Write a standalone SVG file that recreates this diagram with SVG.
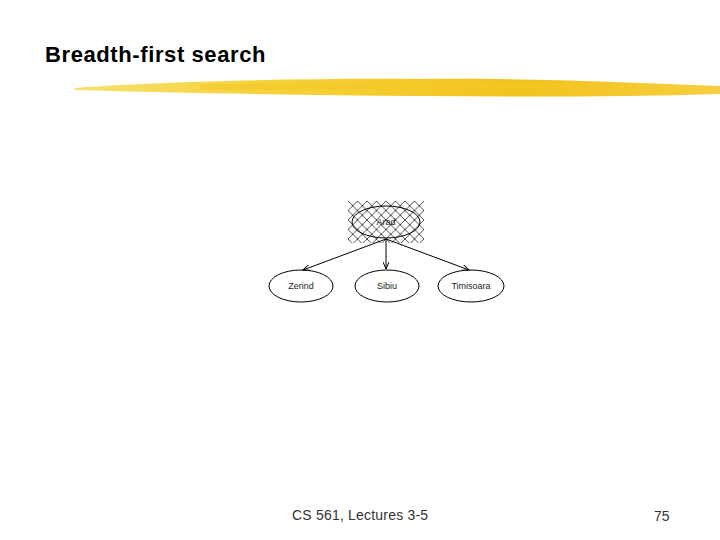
<svg xmlns="http://www.w3.org/2000/svg" width="720" height="540" viewBox="0 0 720 540">
<style>
.t{font-family:"Liberation Sans",Arial,sans-serif;fill:#000}
.f{font-family:"Liberation Sans",Arial,sans-serif;fill:#333;font-size:14px}
.n{fill:none;stroke:#000;stroke-width:1}
.l{font-family:"Liberation Sans",Arial,sans-serif;font-size:9px;fill:#222;text-anchor:middle}
.e{stroke:#000;stroke-width:1;fill:none;marker-end:url(#ah)}
</style>
<defs>
<pattern id="hatch" x="348" y="201" width="9.5" height="9.5" patternUnits="userSpaceOnUse">
<path d="M0,0 L9.5,9.5 M9.5,0 L0,9.5" stroke="#000" stroke-width="0.7"/>
</pattern>
<marker id="ah" markerWidth="8" markerHeight="6" refX="7" refY="3" orient="auto" markerUnits="userSpaceOnUse">
<path d="M0,0 L7,3 L0,6" fill="none" stroke="#000" stroke-width="1"/>
</marker>
<linearGradient id="y" x1="0" x2="1" y1="0" y2="0">
<stop offset="0" stop-color="#f7e070"/>
<stop offset="0.3" stop-color="#f5d23a"/>
<stop offset="0.7" stop-color="#f2c21e"/>
<stop offset="1" stop-color="#f6cf40"/>
</linearGradient>
</defs>
<rect width="720" height="540" fill="#fff"/>
<text class="t" x="45" y="62" font-size="22" font-weight="bold" letter-spacing="0.6">Breadth-first search</text>
<path d="M75,88 C150,82 300,78 420,79 C520,78 620,82 720,86 L720,94 C620,97 520,97 420,96 C300,95 180,93 75,90 Z" fill="url(#y)"/>
<path d="M200,84 L545,82 L545,89 L200,90 Z" fill="#f3c826" opacity="0.6"/>
<g id="connectors">
<line class="e" x1="386" y1="239" x2="303" y2="270"/>
<line class="e" x1="386" y1="239" x2="386" y2="269"/>
<line class="e" x1="386" y1="239" x2="469" y2="270"/>
</g>
<g id="node-arad">
<rect x="348" y="201" width="76" height="42" fill="url(#hatch)"/>
<ellipse class="n" cx="386" cy="222" rx="34" ry="16"/>
<text class="l" x="386" y="225" fill="#666">Arad</text>
</g>
<g id="node-zerind">
<ellipse class="n" cx="301" cy="286" rx="32" ry="16"/>
<text class="l" x="301" y="289">Zerind</text>
</g>
<g id="node-sibiu">
<ellipse class="n" cx="387" cy="286" rx="32" ry="16"/>
<text class="l" x="387" y="289">Sibiu</text>
</g>
<g id="node-timisoara">
<ellipse class="n" cx="471" cy="286" rx="33" ry="16"/>
<text class="l" x="471" y="289">Timisoara</text>
</g>
<text class="f" x="292" y="520" letter-spacing="0.2">CS 561,  Lectures 3-5</text>
<text class="f" x="654" y="521">75</text>
</svg>
